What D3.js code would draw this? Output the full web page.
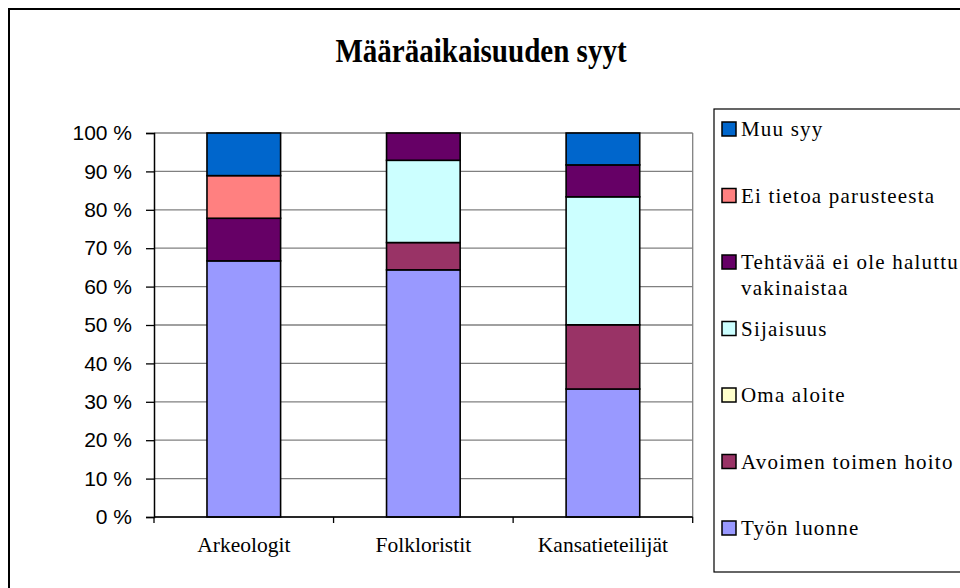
<!DOCTYPE html>
<html>
<head>
<meta charset="utf-8">
<script src="https://cdn.jsdelivr.net/npm/d3@7"></script>
<style>
  body { margin: 0; background: #fff; }
  svg { display: block; }
</style>
</head>
<body>
<svg width="960" height="588"></svg>
<script>
// Määräaikaisuuden syyt - shares per group (%)
var categories = ["Arkeologit", "Folkloristit", "Kansatieteilijät"];

var tyonLuonne  = [66.7, 64.3, 33.3];
var avoimen     = [0, 7.1, 16.7];
var omaAloite   = [0, 0, 0];
var sijaisuus   = [0, 21.4, 33.3];
var tehtavaa    = [11.1, 7.1, 8.3];
var eiTietoa    = [11.1, 0, 0];
var muuSyy      = [11.1, 0, 8.3];

// stacking order, bottom to top
var seriesNames = ["Työn luonne", "Avoimen toimen hoito", "Oma aloite", "Sijaisuus",
                   "Tehtävää ei ole haluttu vakinaistaa", "Ei tietoa parusteesta", "Muu syy"];
var seriesValues = [tyonLuonne, avoimen, omaAloite, sijaisuus, tehtavaa, eiTietoa, muuSyy];
var seriesColors = ["#9999FF", "#993366", "#FFFFCC", "#CCFFFF", "#660066", "#FF8080", "#0066CC"];

var yTicks = [0, 10, 20, 30, 40, 50, 60, 70, 80, 90, 100];

var serif = "'Liberation Serif', 'Times New Roman', serif";

var svg = d3.select("svg"),
    plot = {left: 154, right: 692.7, top: 133, bottom: 517};

var rows = categories.map(function(c, i) {
  var r = {cat: c};
  seriesNames.forEach(function(s, j) { r[s] = seriesValues[j][i]; });
  return r;
});

var stack = d3.stack()
    .keys(seriesNames)
    .offset(d3.stackOffsetExpand);
var layers = stack(rows);

var x = d3.scaleBand()
    .domain(categories)
    .range([plot.left, plot.right])
    .paddingInner(0.59)
    .paddingOuter(0.295);

var xCat = d3.scaleBand()
    .domain(categories)
    .range([plot.left, plot.right]);

var y = d3.scaleLinear()
    .domain([0, 100])
    .range([plot.bottom, plot.top]);

var color = d3.scaleOrdinal().domain(seriesNames).range(seriesColors);

// outer chart border
svg.append("rect")
    .attr("x", 9).attr("y", 9)
    .attr("width", 975).attr("height", 600)
    .attr("fill", "none")
    .attr("stroke", "#000")
    .attr("stroke-width", 2);

// title (condensed look)
svg.append("text")
    .attr("transform", "translate(481,62) scale(0.88,1)")
    .attr("text-anchor", "middle")
    .attr("font-family", serif)
    .attr("font-weight", "bold")
    .attr("font-size", 33)
    .text("Määräaikaisuuden syyt");

// gridlines
svg.append("g")
  .selectAll("line")
  .data(yTicks)
  .enter().append("line")
    .attr("x1", plot.left).attr("x2", plot.right)
    .attr("y1", function(d) { return y(d); })
    .attr("y2", function(d) { return y(d); })
    .attr("stroke", "#808080")
    .attr("stroke-width", 1.3);

svg.append("line")
    .attr("x1", plot.right).attr("x2", plot.right)
    .attr("y1", plot.top).attr("y2", plot.bottom)
    .attr("stroke", "#808080")
    .attr("stroke-width", 1.3);

// bars
svg.append("g")
  .selectAll("g")
  .data(layers)
  .enter().append("g")
    .attr("fill", function(d) { return color(d.key); })
  .selectAll("rect")
  .data(function(d) { return d.filter(function(p) { return p[1] - p[0] > 0; }); })
  .enter().append("rect")
    .attr("x", function(d) { return x(d.data.cat); })
    .attr("width", x.bandwidth())
    .attr("y", function(d) { return y(d[1] * 100); })
    .attr("height", function(d) { return y(d[0] * 100) - y(d[1] * 100); })
    .attr("stroke", "#000")
    .attr("stroke-width", 1.6);

// y axis
var yAxis = svg.append("g")
    .attr("transform", "translate(" + plot.left + ",0)")
    .call(d3.axisLeft(y)
      .tickValues(yTicks)
      .tickFormat(function(d) { return d + " %"; })
      .tickSize(8)
      .tickPadding(14));
yAxis.attr("font-family", "'Liberation Sans', Arial, sans-serif").attr("font-size", 21);
yAxis.select(".domain").attr("stroke", "#000").attr("stroke-width", 1.5);
yAxis.selectAll(".tick line").attr("stroke", "#000").attr("stroke-width", 1.3);
yAxis.selectAll("text").attr("fill", "#000");

// x axis: labels centred, ticks at category boundaries
var xAxis = svg.append("g")
    .attr("transform", "translate(0," + plot.bottom + ")")
    .call(d3.axisBottom(x).tickSize(0).tickPadding(20).tickSizeOuter(0));
xAxis.attr("font-family", serif).attr("font-size", 21.5);
xAxis.select(".domain").remove();
xAxis.selectAll("text").attr("fill", "#000");

svg.append("line")
    .attr("x1", plot.left).attr("x2", plot.right)
    .attr("y1", plot.bottom).attr("y2", plot.bottom)
    .attr("stroke", "#000").attr("stroke-width", 1.5);

var bounds = categories.map(function(c) { return xCat(c); }).concat([plot.right]);
svg.append("g")
  .selectAll("line")
  .data(bounds)
  .enter().append("line")
    .attr("x1", function(d) { return d; }).attr("x2", function(d) { return d; })
    .attr("y1", plot.bottom).attr("y2", plot.bottom + 6)
    .attr("stroke", "#000").attr("stroke-width", 1.3);

// legend
var legendOrder = seriesNames.slice().reverse();
var ly = d3.scalePoint().domain(legendOrder).range([129, 528]);

svg.append("rect")
    .attr("x", 714).attr("y", 109)
    .attr("width", 270).attr("height", 463)
    .attr("fill", "none")
    .attr("stroke", "#000")
    .attr("stroke-width", 1.2);

var item = svg.append("g")
    .attr("font-family", serif)
    .attr("font-size", 21)
  .selectAll("g")
  .data(legendOrder)
  .enter().append("g")
    .attr("transform", function(d) { return "translate(722," + ly(d) + ")"; });

item.append("rect")
    .attr("x", 0).attr("y", -7)
    .attr("width", 14).attr("height", 14)
    .attr("fill", function(d) { return color(d); })
    .attr("stroke", "#000")
    .attr("stroke-width", 1.5);

var legendLines = {
  "Tehtävää ei ole haluttu vakinaistaa": ["Tehtävää ei ole haluttu", "vakinaistaa"]
};

item.append("text")
    .attr("letter-spacing", 1.2)
  .selectAll("tspan")
  .data(function(d) { return legendLines[d] || [d]; })
  .enter().append("tspan")
    .attr("x", 19)
    .attr("y", function(d, i) { return 7 + i * 26; })
    .text(function(d) { return d; });
</script>
</body>
</html>
